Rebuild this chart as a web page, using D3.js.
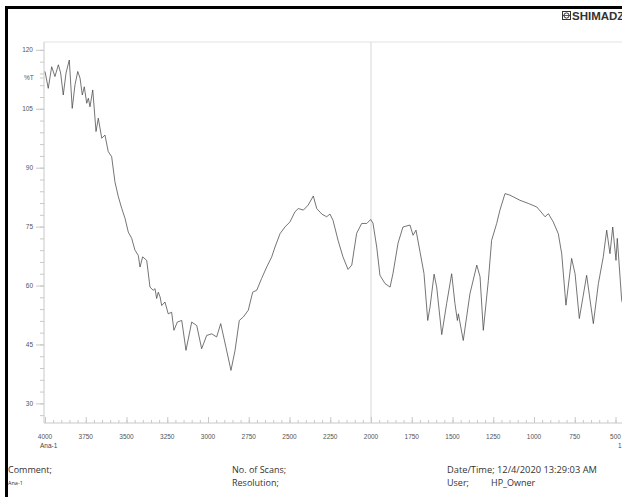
<!DOCTYPE html>
<html>
<head>
<meta charset="utf-8">
<script src="https://cdn.jsdelivr.net/npm/d3@7/dist/d3.min.js"></script>
<style>
  html, body { margin: 0; padding: 0; background: #fff; }
  svg { display: block; }
</style>
</head>
<body>
<div id="chart"></div>
<script>
// ---- data ----
const wavenumbers = [4000,3980,3959,3939,3918,3904,3888,3871,3851,3833,3816,3799,3785,3771,3759,3744,3734,3724,3707,3687,
  3673,3652,3632,3612,3591,3571,3550,3529,3509,3489,3468,3448,3428,3417,3401,3376,3356,3336,3325,3315,
  3305,3294,3284,3264,3244,3223,3209,3188,3161,3135,3100,3069,3039,3008,2977,2947,2922,2890,2859,2834,
  2808,2783,2753,2726,2701,2671,2640,2609,2589,2558,2528,2497,2466,2446,2415,2385,2354,2333,2302,2272,
  2252,2233,2202,2172,2141,2118,2088,2057,2026,2002,1988,1965,1945,1914,1883,1865,1834,1804,1761,1742,
  1724,1699,1675,1652,1638,1613,1597,1566,1536,1505,1485,1470,1464,1434,1393,1351,1331,1311,1280,1260,
  1229,1209,1178,1147,1086,1035,983,932,912,882,851,830,804,769,748,722,677,636,605,575,
  554,534,517,497,489,462,442];
const transmittance = [114.5,110.2,115.7,113.2,116.2,114.1,108.5,114.1,117.4,105.1,111.1,114.5,112.8,108.5,110.6,106.4,107.7,105.5,109.8,99.2,
  102.6,97.5,98.3,94.1,92.8,86.4,82.6,79.6,77.1,73.6,72.0,69.0,67.7,64.7,67.3,66.4,59.6,58.8,59.2,56.7,
  58.3,57.1,54.9,55.8,52.8,53.2,48.6,50.7,51.1,43.5,50.7,49.8,43.9,47.3,47.7,46.9,50.3,44.3,38.4,43.5,
  51.1,52.0,53.7,58.3,58.8,61.8,64.7,67.3,69.8,73.2,74.9,76.2,78.8,79.6,79.2,80.5,82.8,79.6,78.2,77.5,
  78.2,76.6,71.5,67.3,64.1,65.2,73.3,75.8,75.8,76.8,75.9,69.8,62.6,60.5,59.6,63.1,70.8,74.9,75.4,72.8,
  74.1,68.5,63.1,51.1,54.5,62.9,59.6,47.5,55.4,63.0,55.4,51.1,52.8,46.0,57.9,65.2,62.2,48.6,61.3,71.5,
  75.8,79.2,83.4,83.0,81.7,80.9,80.0,77.5,78.3,76.2,73.2,68.1,55.0,66.9,63.0,51.6,62.6,50.3,60.5,67.3,
  74.1,68.1,74.9,66.4,72.0,56.2,53.6];
const yMajorTicks = [30,45,60,75,90,105,120];
const yMinorTicks = d3.range(27, 121, 3);
const xMajorTicks = [4000,3750,3500,3250,3000,2750,2500,2250,2000,1750,1500,1250,1000,750,500];
const xMinorTicks = d3.range(500, 4001, 50);

(function () {
const W = 622, H = 497;
const svg = d3.select("#chart").append("svg").attr("width", W).attr("height", H);

const pLeft = 44, pTop = 42, pBottom = 423;
const x = d3.scaleLinear().domain([4000, 400]).range([45, 45 + 3600 * 0.163]);
const y = d3.scaleLinear().domain([25, 122]).range([pBottom, pTop]);

const axisColor = "#c8c8c8";
const labelColor = "#555";
const fontAxis = "Liberation Sans, Arial, sans-serif";

// outer black border (left & top)
svg.append("line").attr("x1", 6.5).attr("x2", 6.5).attr("y1", 6).attr("y2", H).attr("stroke", "#000").attr("stroke-width", 3);
svg.append("line").attr("x1", 5).attr("x2", W).attr("y1", 7.5).attr("y2", 7.5).attr("stroke", "#000").attr("stroke-width", 3);

// logo (cut by the page edge, as in the reference scan)
const logo = svg.append("g").attr("transform", "translate(562,11)");
logo.append("rect").attr("x", 0.5).attr("y", 0.5).attr("width", 8).attr("height", 8).attr("fill", "none").attr("stroke", "#333").attr("stroke-width", 1);
logo.append("circle").attr("cx", 4.5).attr("cy", 4.5).attr("r", 2.6).attr("fill", "none").attr("stroke", "#333").attr("stroke-width", 1);
logo.append("line").attr("x1", 1).attr("x2", 8).attr("y1", 4.5).attr("y2", 4.5).attr("stroke", "#333").attr("stroke-width", 0.8);
svg.append("text").attr("x", 572).attr("y", 19.5).text("SHIMADZU")
  .attr("font-family", "Liberation Sans, Arial, sans-serif").attr("font-weight", "bold").attr("font-size", 11.5).attr("fill", "#333");

// frame: top line, 2000 divider
svg.append("line").attr("x1", pLeft).attr("x2", W).attr("y1", pTop).attr("y2", pTop).attr("stroke", "#e2e2e2").attr("stroke-width", 1);
svg.append("line").attr("x1", x(2000)).attr("x2", x(2000)).attr("y1", pTop).attr("y2", pBottom).attr("stroke", "#d6d6d6").attr("stroke-width", 1);

// y axis
const yAxisMinor = d3.axisLeft(y).tickValues(yMinorTicks).tickSize(4).tickFormat("");
const yAxisMajor = d3.axisLeft(y).tickValues(yMajorTicks).tickSize(8).tickPadding(3).tickFormat(d3.format("d"));
[yAxisMinor, yAxisMajor].forEach(ax => {
  const g = svg.append("g").attr("transform", `translate(${pLeft},0)`).call(ax);
  g.select(".domain").remove();
  g.selectAll(".tick line").attr("stroke", axisColor);
  g.selectAll(".tick text").attr("fill", labelColor).attr("font-size", 6.5).attr("font-family", fontAxis);
});
svg.append("line").attr("x1", pLeft).attr("x2", pLeft).attr("y1", pTop).attr("y2", pBottom).attr("stroke", axisColor);
svg.append("text").attr("x", 24).attr("y", 80).text("%T").attr("fill", labelColor).attr("font-size", 6.5).attr("font-family", fontAxis);
svg.append("line").attr("x1", pLeft - 4).attr("x2", pLeft).attr("y1", 78).attr("y2", 78).attr("stroke", axisColor);

// x axis
const xAxisMinor = d3.axisTop(x).tickValues(xMinorTicks).tickSize(3).tickFormat("");
const xAxisMajor = d3.axisTop(x).tickValues(xMajorTicks).tickSize(6).tickFormat("");
[xAxisMinor, xAxisMajor].forEach(ax => {
  const g = svg.append("g").attr("transform", `translate(0,${pBottom})`).call(ax);
  g.select(".domain").remove();
  g.selectAll(".tick line").attr("stroke", axisColor);
});
svg.append("line").attr("x1", pLeft).attr("x2", W).attr("y1", pBottom).attr("y2", pBottom).attr("stroke", axisColor);
svg.append("g").selectAll("text").data(xMajorTicks).join("text")
  .attr("x", d => x(d)).attr("y", 438.5).attr("text-anchor", "middle").text(d => d)
  .attr("fill", labelColor).attr("font-size", 6.5).attr("font-family", fontAxis);
svg.append("text").attr("x", 40).attr("y", 448).text("Ana-1").attr("fill", "#444").attr("font-size", 6.5).attr("font-family", fontAxis);
svg.append("text").attr("x", 618).attr("y", 448).text("1").attr("fill", "#444").attr("font-size", 6.5).attr("font-family", fontAxis);

// spectrum
const pts = wavenumbers.map((w, i) => [w, transmittance[i]]);
svg.append("defs").append("clipPath").attr("id", "clip").append("rect")
  .attr("x", pLeft).attr("y", pTop).attr("width", W - pLeft).attr("height", pBottom - pTop);
svg.append("path").datum(pts)
  .attr("clip-path", "url(#clip)")
  .attr("d", d3.line().x(d => x(d[0])).y(d => y(d[1])))
  .attr("fill", "none").attr("stroke", "#474747").attr("stroke-width", 0.75).attr("stroke-linejoin", "round");

// footer
const foot = "Open Sans, Liberation Sans, sans-serif";
const ft = (tx, xx, yy, fs) => svg.append("text").attr("x", xx).attr("y", yy).text(tx)
  .attr("fill", "#333").attr("font-size", fs).attr("font-family", foot);
ft("Comment;", 8, 473, 9);
ft("Ana-1", 8, 485, 5.5);
ft("No. of Scans;", 232, 473, 9);
ft("Resolution;", 232, 486, 9);
ft("Date/Time; 12/4/2020 13:29:03 AM", 447, 473, 9.3);
ft("User;", 447, 486, 9);
ft("HP_Owner", 491, 486, 9);
})();
</script>
</body>
</html>
